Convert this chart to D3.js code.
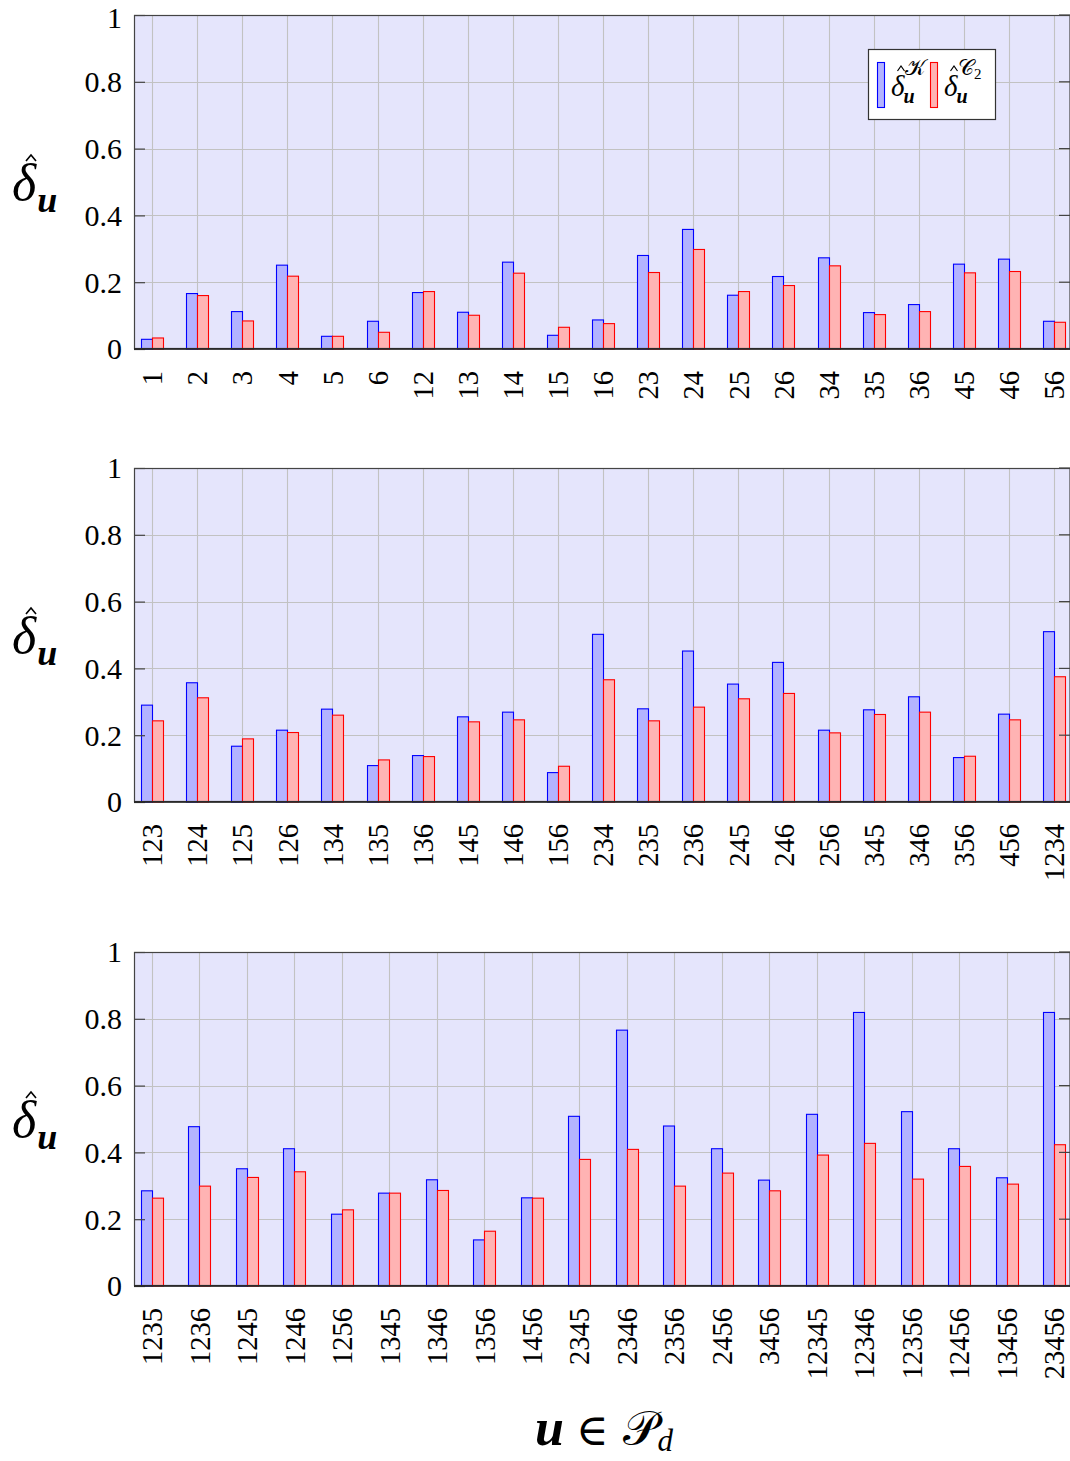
<!DOCTYPE html>
<html>
<head>
<meta charset="utf-8">
<script src="https://cdn.jsdelivr.net/npm/d3@7"></script>
<style>
  html, body { margin: 0; padding: 0; background: #fff; }
  svg { display: block; }
  svg text { font-family: "Liberation Serif", "DejaVu Serif", serif; }
</style>
</head>
<body>
<svg id="chart" width="1070" height="1461"></svg>
<script>
// ---------------- DATA ----------------
const cats1 = ["1","2","3","4","5","6","12","13","14","15","16","23","24","25","26","34","35","36","45","46","56"];
const kappa1 = [0.029,0.166,0.112,0.251,0.038,0.083,0.169,0.110,0.260,0.041,0.087,0.280,0.358,0.161,0.217,0.273,0.109,0.133,0.254,0.269,0.083];
const c2_1   = [0.033,0.160,0.084,0.218,0.038,0.050,0.172,0.101,0.227,0.065,0.076,0.229,0.298,0.172,0.190,0.249,0.103,0.112,0.228,0.232,0.080];

const cats2 = ["123","124","125","126","134","135","136","145","146","156","234","235","236","245","246","256","345","346","356","456","1234"];
const kappa2 = [0.290,0.357,0.167,0.215,0.278,0.109,0.139,0.255,0.269,0.088,0.502,0.279,0.452,0.353,0.418,0.215,0.276,0.315,0.133,0.263,0.510];
const c2_2   = [0.243,0.312,0.189,0.208,0.260,0.126,0.136,0.240,0.246,0.107,0.366,0.243,0.284,0.309,0.325,0.207,0.262,0.269,0.137,0.246,0.375];

const cats3 = ["1235","1236","1245","1246","1256","1345","1346","1356","1456","2345","2346","2356","2456","3456","12345","12346","12356","12456","13456","23456"];
const kappa3 = [0.285,0.477,0.351,0.411,0.215,0.278,0.318,0.138,0.264,0.508,0.766,0.479,0.411,0.317,0.514,0.819,0.522,0.411,0.324,0.819];
const c2_3   = [0.263,0.299,0.325,0.342,0.228,0.278,0.286,0.164,0.263,0.379,0.409,0.299,0.338,0.285,0.392,0.427,0.320,0.358,0.305,0.423];

const yTicks = [0, 0.2, 0.4, 0.6, 0.8, 1];
const yTickLabels = ["0", "0.2", "0.4", "0.6", "0.8", "1"];

// ---------------- LAYOUT ----------------
const plotLeft = 134, plotRight = 1070;
const firstTickX = 152, lastTickX = 1054;
const panelHeight = 334;
const panelTops = [15, 468, 952];
const barW = 11;

const colors = {
  bg: "#e5e5fc",
  grid: "#c2c2c2",
  axis: "#444",
  kFill: "#b3b3ff", kStroke: "#0000ff",
  cFill: "#ffb3b3", cStroke: "#ff0000"
};
const serif = "Liberation Serif, DejaVu Serif, serif";

const svg = d3.select("#chart");

const panels = [
  { cats: cats1, k: kappa1, c: c2_1, top: panelTops[0] },
  { cats: cats2, k: kappa2, c: c2_2, top: panelTops[1] },
  { cats: cats3, k: kappa3, c: c2_3, top: panelTops[2] }
];

function hat(g, cx, cy, w, h, sw) {
  g.append("path")
    .attr("d", `M${cx - w / 2},${cy + h} L${cx},${cy} L${cx + w / 2},${cy + h}`)
    .attr("fill", "none").attr("stroke", "#000").attr("stroke-width", sw);
}

function yLabel(g, cx, cy) {
  const t = g.append("text")
    .attr("x", cx).attr("y", cy)
    .style("font-family", serif)
    .attr("fill", "#000");
  t.append("tspan").attr("font-style", "italic").attr("font-size", 52).text("δ");
  t.append("tspan").attr("font-style", "italic").attr("font-weight", "bold")
    .attr("font-size", 36).attr("dy", 12).attr("dx", 1).text("u");
  hat(g, cx + 19, cy - 45, 10, 6, 1.6);
}

panels.forEach((p, pi) => {
  const g = svg.append("g");
  const x = d3.scalePoint().domain(p.cats).range([firstTickX, lastTickX]);
  const y = d3.scaleLinear().domain([0, 1]).range([p.top + panelHeight, p.top]);

  // background
  g.append("rect")
    .attr("x", plotLeft).attr("y", p.top)
    .attr("width", plotRight - plotLeft).attr("height", panelHeight)
    .attr("fill", colors.bg);

  // horizontal grid
  g.selectAll("line.hg").data(yTicks).join("line")
    .attr("x1", plotLeft).attr("x2", plotRight)
    .attr("y1", d => Math.round(y(d)) + 0.5).attr("y2", d => Math.round(y(d)) + 0.5)
    .attr("stroke", colors.grid).attr("stroke-width", 1.1);

  // vertical grid
  g.selectAll("line.vg").data(p.cats).join("line")
    .attr("x1", d => Math.round(x(d)) + 0.5).attr("x2", d => Math.round(x(d)) + 0.5)
    .attr("y1", p.top).attr("y2", p.top + panelHeight)
    .attr("stroke", colors.grid).attr("stroke-width", 1.1);

  // bars K
  g.selectAll("rect.k").data(p.cats).join("rect")
    .attr("x", d => Math.round(x(d)) - barW + 0.5)
    .attr("y", (d, i) => y(p.k[i]))
    .attr("width", barW)
    .attr("height", (d, i) => y(0) - y(p.k[i]))
    .attr("fill", colors.kFill).attr("stroke", colors.kStroke).attr("stroke-width", 1.1);

  // bars C2
  g.selectAll("rect.c").data(p.cats).join("rect")
    .attr("x", d => Math.round(x(d)) + 0.5)
    .attr("y", (d, i) => y(p.c[i]))
    .attr("width", barW)
    .attr("height", (d, i) => y(0) - y(p.c[i]))
    .attr("fill", colors.cFill).attr("stroke", colors.cStroke).attr("stroke-width", 1.1);

  // left axis ticks and labels
  const ax = g.append("g").attr("transform", `translate(${plotLeft},0)`)
    .call(d3.axisLeft(y).tickValues(yTicks).tickSize(-11).tickPadding(12)
      .tickFormat((d, i) => yTickLabels[i]));
  ax.attr("font-family", null);
  ax.select(".domain").remove();
  ax.selectAll(".tick line").attr("stroke", colors.axis).attr("stroke-width", 1.2);
  ax.selectAll(".tick text").style("font-family", serif).attr("font-size", 30).attr("fill", "#000")
    .attr("dy", d => (pi === 0 && d === 1) ? "0.42em" : "0.33em");

  // right ticks
  g.selectAll("line.rt").data(yTicks).join("line")
    .attr("x1", plotRight - 11).attr("x2", plotRight)
    .attr("y1", d => y(d)).attr("y2", d => y(d))
    .attr("stroke", colors.axis).attr("stroke-width", 1.2);

  // frame
  g.append("rect")
    .attr("x", plotLeft + 0.5).attr("y", p.top + 0.5)
    .attr("width", plotRight - plotLeft - 0.5).attr("height", panelHeight - 1)
    .attr("fill", "none").attr("stroke", colors.axis).attr("stroke-width", 1.2);
  g.append("line")
    .attr("x1", plotLeft).attr("x2", plotRight)
    .attr("y1", y(0)).attr("y2", y(0))
    .attr("stroke", "#222").attr("stroke-width", 1.6);

  // x axis labels (rotated)
  const xa = g.append("g").attr("transform", `translate(0,${y(0)})`)
    .call(d3.axisBottom(x).tickSize(0));
  xa.attr("font-family", null);
  xa.select(".domain").remove();
  xa.selectAll(".tick text")
    .style("font-family", serif).attr("font-size", 28.5).attr("fill", "#000")
    .attr("transform", "rotate(-90)")
    .attr("text-anchor", "end")
    .attr("x", -22).attr("y", 0).attr("dy", "0.34em");

  // y-axis title
  yLabel(g, 12, p.top + panelHeight / 2 + 18);
});

// ---------------- LEGEND ----------------
const lg = svg.append("g");
lg.append("rect").attr("x", 868.5).attr("y", 49.5).attr("width", 127).attr("height", 70)
  .attr("fill", "#fff").attr("stroke", "#333").attr("stroke-width", 1.2);
const legendItems = [
  { sx: 877, fill: colors.kFill, stroke: colors.kStroke, sup: "𝒦", sub2: "", tx: 891 },
  { sx: 930, fill: colors.cFill, stroke: colors.cStroke, sup: "𝒞", sub2: "2", tx: 944 }
];
legendItems.forEach(it => {
  lg.append("rect").attr("x", it.sx + 0.5).attr("y", 62.5).attr("width", 7).attr("height", 45)
    .attr("fill", it.fill).attr("stroke", it.stroke).attr("stroke-width", 1.1);
  const t = lg.append("text").attr("x", it.tx).attr("y", 96)
    .style("font-family", serif).attr("fill", "#000");
  t.append("tspan").attr("font-style", "italic").attr("font-size", 29).text("δ");
  t.append("tspan").attr("font-style", "italic").attr("font-weight", "bold")
    .attr("font-size", 20).attr("dy", 7).attr("dx", -1).text("u");
  hat(lg, it.tx + 10, 66, 7, 5, 1.2);
  const s = lg.append("text").attr("x", it.tx + 14).attr("y", 75)
    .style("font-family", "DejaVu Serif, DejaVu Sans, serif").attr("fill", "#000");
  s.append("tspan").attr("font-size", 22).text(it.sup);
  if (it.sub2) s.append("tspan").style("font-family", serif).attr("font-size", 15).attr("dy", 4).text(it.sub2);
});

// ---------------- X TITLE ----------------
const xt = svg.append("text").attr("x", 604).attr("y", 1445)
  .attr("text-anchor", "middle").style("font-family", serif).attr("fill", "#000");
xt.append("tspan").attr("font-style", "italic").attr("font-weight", "bold").attr("font-size", 52).text("u");
xt.append("tspan").attr("font-size", 44).attr("dx", 12).text("∈");
xt.append("tspan").style("font-family", "DejaVu Serif, DejaVu Sans, serif").attr("font-size", 48).attr("dx", 14).text("𝒫");
xt.append("tspan").attr("font-style", "italic").attr("font-size", 31).attr("dy", 6).text("d");
</script>
</body>
</html>
